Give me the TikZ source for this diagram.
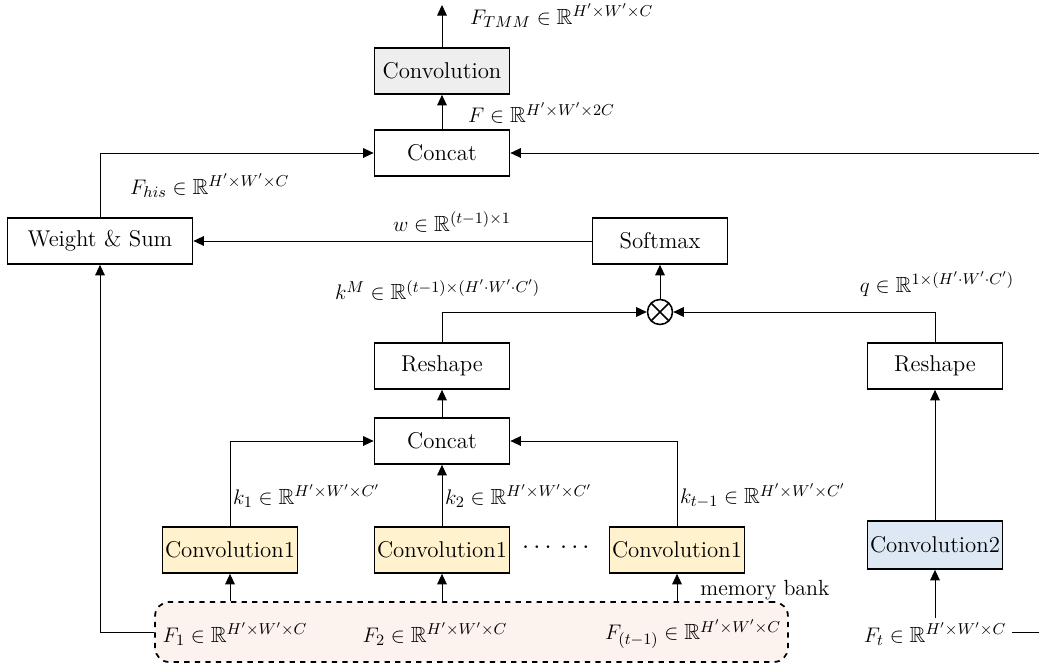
\documentclass[tikz,border=0pt]{standalone}
\usepackage{amsmath,amssymb}
\usetikzlibrary{arrows.meta,positioning}
\definecolor{convgray}{HTML}{EEEEEE}
\definecolor{convyellow}{HTML}{FFF2CC}
\definecolor{convblue}{HTML}{DEE8F4}
\definecolor{bankfill}{HTML}{FDF3EE}
\tikzset{
  blk/.style={draw, line width=1pt, minimum width=2.7cm, minimum height=0.92cm, inner sep=0pt, font=\fontsize{13}{15}\selectfont},
  conn/.style={line width=0.55pt},
  arr/.style={conn, -{Triangle[length=6pt,width=5.5pt]}},
  lbl/.style={font=\fontsize{12.5}{14}\selectfont, inner sep=1pt}
}
\begin{document}
\begin{tikzpicture}[x=0.02cm,y=-0.02cm]
\useasboundingbox (0,0) rectangle (1039,665);
% boxes
\node[blk, fill=convgray] (conv) at (442,71) {Convolution};
\node[blk] (concatT) at (442,153) {Concat};
\node[blk, minimum width=3.7cm] (ws) at (100,241) {Weight \& Sum};
\node[blk] (soft) at (660,241) {Softmax};
\node[draw, circle, line width=0.9pt, minimum size=0.5cm, inner sep=0pt,
  path picture={\draw[line width=0.9pt] (path picture bounding box.north west) -- (path picture bounding box.south east)
  (path picture bounding box.north east) -- (path picture bounding box.south west);}] (mul) at (660,312) {};
\node[blk] (reshL) at (442,366) {Reshape};
\node[blk] (reshR) at (935,366) {Reshape};
\node[blk] (concatM) at (442,441) {Concat};
\node[blk, fill=convyellow] (c1a) at (230,550) {Convolution1};
\node[blk, fill=convyellow] (c1b) at (442,550) {Convolution1};
\node[blk, fill=convyellow] (c1c) at (677,550) {Convolution1};
\node[blk, fill=convblue, minimum height=0.96cm] (c2) at (935,545) {Convolution2};
\node[font=\fontsize{15}{17}\selectfont] (dots) at (558,548) {$\cdots\,\cdots$};
% memory bank
\node[draw, dashed, line width=1pt, rounded corners=8pt, fill=bankfill, minimum width=12.66cm, minimum height=1.2cm, inner sep=0pt] (bank) at (471.5,632) {};
\node[font=\fontsize{12.5}{14}\selectfont, anchor=base] (bankl) at (765,596) {memory bank};
\node[lbl] (f1) at (235,634) {$F_1 \in \mathbb{R}^{H'\times W'\times C}$};
\node[lbl] (f2) at (435,634) {$F_2 \in \mathbb{R}^{H'\times W'\times C}$};
\node[lbl] (ft1) at (693,634) {$F_{(t-1)} \in \mathbb{R}^{H'\times W'\times C}$};
\node[lbl] (ft) at (935,634) {$F_t \in \mathbb{R}^{H'\times W'\times C}$};
% coordinates
\coordinate (topout) at (442,5);
\coordinate (rightT) at (1039,153);
\coordinate (rightB) at (1039,632);
\coordinate (ftend) at (1012,632);
% connectors
\draw[arr] (conv.north) -- (topout);
\draw[arr] (concatT.north) -- (conv.south);
\draw[arr] (ws.north) |- (concatT.west);
\draw[arr] (rightT) -- (concatT.east);
\draw[arr] (soft.west) -- (ws.east);
\draw[arr] (mul.north) -- (soft.south);
\draw[arr] (reshL.north) |- (mul.west);
\draw[arr] (reshR.north) |- (mul.east);
\draw[arr] (concatM.north) -- (reshL.south);
\draw[arr] (c1a.north) |- (concatM.west);
\draw[arr] (c1b.north) -- (concatM.south);
\draw[arr] (c1c.north) |- (concatM.east);
\draw[arr] (c2.north) -- (reshR.south);
\draw[arr] (bank.north -| c1a) -- (c1a.south);
\draw[arr] (bank.north -| c1b) -- (c1b.south);
\draw[arr] (bank.north -| c1c) -- (c1c.south);
\draw[arr] (bank.west) -| (ws.south);
\draw[arr] (ft.north) ++(0,-2) -- (c2.south);
\draw[conn] (ftend) -- (rightB);
% labels
\node[lbl, anchor=west] at (468,16) {$F_{TMM} \in \mathbb{R}^{H'\times W'\times C}$};
\node[lbl, anchor=west] at (466,113) {$F \in \mathbb{R}^{H'\times W'\times 2C}$};
\node[lbl, anchor=west] at (128,186) {$F_{his} \in \mathbb{R}^{H'\times W'\times C}$};
\node[lbl] at (452,222) {$w \in \mathbb{R}^{(t-1)\times 1}$};
\node[lbl, anchor=west] at (333,290) {$k^M \in \mathbb{R}^{(t-1)\times(H'\cdot W'\cdot C')}$};
\node[lbl] at (937,284) {$q \in \mathbb{R}^{1\times(H'\cdot W'\cdot C')}$};
\node[lbl, anchor=west] at (231,496) {$k_1 \in \mathbb{R}^{H'\times W'\times C'}$};
\node[lbl, anchor=west] at (443,496) {$k_2 \in \mathbb{R}^{H'\times W'\times C'}$};
\node[lbl, anchor=west] at (678,496) {$k_{t-1} \in \mathbb{R}^{H'\times W'\times C'}$};
\end{tikzpicture}
\end{document}
